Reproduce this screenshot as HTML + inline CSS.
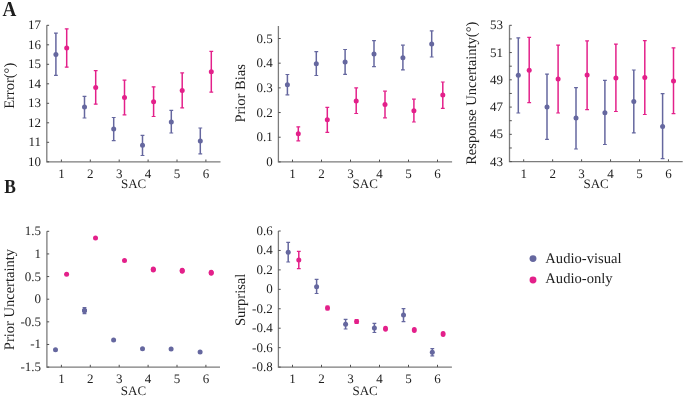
<!DOCTYPE html>
<html><head><meta charset="utf-8"><style>
html,body{margin:0;padding:0;background:#fff;}
body{width:685px;height:397px;overflow:hidden;}
svg{display:block;will-change:transform;}
text{text-rendering:geometricPrecision;}
text{font-family:"Liberation Serif",serif;fill:#1e1e1e;}
.t{font-size:13px;}
.s{font-size:13.0px;}
.l{font-size:14.5px;}
.g{font-size:14.6px;}
.p{font-size:20px;font-weight:bold;}
</style></head><body>
<svg width="685" height="397" viewBox="0 0 685 397" shape-rendering="geometricPrecision">
<path d="M46.8 25.3V161.8H220.5" fill="none" stroke="#7c7c7c" stroke-width="1.3"/>
<path d="M46.8 161.8h2.3" stroke="#505050" stroke-width="1.0"/>
<text x="41" y="165.8" text-anchor="end" class="t">10</text>
<path d="M46.8 142.3h2.3" stroke="#505050" stroke-width="1.0"/>
<text x="41" y="146.3" text-anchor="end" class="t">11</text>
<path d="M46.8 122.8h2.3" stroke="#505050" stroke-width="1.0"/>
<text x="41" y="126.8" text-anchor="end" class="t">12</text>
<path d="M46.8 103.3h2.3" stroke="#505050" stroke-width="1.0"/>
<text x="41" y="107.3" text-anchor="end" class="t">13</text>
<path d="M46.8 83.8h2.3" stroke="#505050" stroke-width="1.0"/>
<text x="41" y="87.8" text-anchor="end" class="t">14</text>
<path d="M46.8 64.3h2.3" stroke="#505050" stroke-width="1.0"/>
<text x="41" y="68.3" text-anchor="end" class="t">15</text>
<path d="M46.8 44.8h2.3" stroke="#505050" stroke-width="1.0"/>
<text x="41" y="48.8" text-anchor="end" class="t">16</text>
<path d="M46.8 25.3h2.3" stroke="#505050" stroke-width="1.0"/>
<text x="41" y="29.3" text-anchor="end" class="t">17</text>
<path d="M61.4 161.8v-2.3" stroke="#505050" stroke-width="1.0"/>
<text x="61.4" y="177.8" text-anchor="middle" class="t">1</text>
<path d="M90.3 161.8v-2.3" stroke="#505050" stroke-width="1.0"/>
<text x="90.3" y="177.8" text-anchor="middle" class="t">2</text>
<path d="M119.2 161.8v-2.3" stroke="#505050" stroke-width="1.0"/>
<text x="119.2" y="177.8" text-anchor="middle" class="t">3</text>
<path d="M148.1 161.8v-2.3" stroke="#505050" stroke-width="1.0"/>
<text x="148.1" y="177.8" text-anchor="middle" class="t">4</text>
<path d="M177 161.8v-2.3" stroke="#505050" stroke-width="1.0"/>
<text x="177" y="177.8" text-anchor="middle" class="t">5</text>
<path d="M205.9 161.8v-2.3" stroke="#505050" stroke-width="1.0"/>
<text x="205.9" y="177.8" text-anchor="middle" class="t">6</text>
<text x="133.65" y="188" text-anchor="middle" class="s">SAC</text>
<text transform="translate(14.2 85.8) rotate(-90)" text-anchor="middle" class="l">Error(°)</text>
<path d="M278.4 25.9V161.9H452.1" fill="none" stroke="#7c7c7c" stroke-width="1.3"/>
<path d="M278.4 161.9h2.3" stroke="#505050" stroke-width="1.0"/>
<text x="272.8" y="165.9" text-anchor="end" class="t">0</text>
<path d="M278.4 137.22h2.3" stroke="#505050" stroke-width="1.0"/>
<text x="272.8" y="141.22" text-anchor="end" class="t">0.1</text>
<path d="M278.4 112.54h2.3" stroke="#505050" stroke-width="1.0"/>
<text x="272.8" y="116.54" text-anchor="end" class="t">0.2</text>
<path d="M278.4 87.86h2.3" stroke="#505050" stroke-width="1.0"/>
<text x="272.8" y="91.86" text-anchor="end" class="t">0.3</text>
<path d="M278.4 63.18h2.3" stroke="#505050" stroke-width="1.0"/>
<text x="272.8" y="67.18" text-anchor="end" class="t">0.4</text>
<path d="M278.4 38.5h2.3" stroke="#505050" stroke-width="1.0"/>
<text x="272.8" y="42.5" text-anchor="end" class="t">0.5</text>
<path d="M292.5 161.9v-2.3" stroke="#505050" stroke-width="1.0"/>
<text x="292.5" y="177.8" text-anchor="middle" class="t">1</text>
<path d="M321.5 161.9v-2.3" stroke="#505050" stroke-width="1.0"/>
<text x="321.5" y="177.8" text-anchor="middle" class="t">2</text>
<path d="M350.5 161.9v-2.3" stroke="#505050" stroke-width="1.0"/>
<text x="350.5" y="177.8" text-anchor="middle" class="t">3</text>
<path d="M379.5 161.9v-2.3" stroke="#505050" stroke-width="1.0"/>
<text x="379.5" y="177.8" text-anchor="middle" class="t">4</text>
<path d="M408.5 161.9v-2.3" stroke="#505050" stroke-width="1.0"/>
<text x="408.5" y="177.8" text-anchor="middle" class="t">5</text>
<path d="M437.5 161.9v-2.3" stroke="#505050" stroke-width="1.0"/>
<text x="437.5" y="177.8" text-anchor="middle" class="t">6</text>
<text x="365.25" y="188" text-anchor="middle" class="s">SAC</text>
<text transform="translate(244.8 93.4) rotate(-90)" text-anchor="middle" class="l">Prior Bias</text>
<path d="M509.5 25.3V161.6H682.7" fill="none" stroke="#7c7c7c" stroke-width="1.3"/>
<path d="M509.5 161.6h2.3" stroke="#505050" stroke-width="1.0"/>
<text x="503" y="165.6" text-anchor="end" class="t">43</text>
<path d="M509.5 147.97h2.3" stroke="#505050" stroke-width="1.0"/>
<path d="M509.5 134.34h2.3" stroke="#505050" stroke-width="1.0"/>
<text x="503" y="138.34" text-anchor="end" class="t">45</text>
<path d="M509.5 120.71h2.3" stroke="#505050" stroke-width="1.0"/>
<path d="M509.5 107.08h2.3" stroke="#505050" stroke-width="1.0"/>
<text x="503" y="111.08" text-anchor="end" class="t">47</text>
<path d="M509.5 93.45h2.3" stroke="#505050" stroke-width="1.0"/>
<path d="M509.5 79.82h2.3" stroke="#505050" stroke-width="1.0"/>
<text x="503" y="83.82" text-anchor="end" class="t">49</text>
<path d="M509.5 66.19h2.3" stroke="#505050" stroke-width="1.0"/>
<path d="M509.5 52.56h2.3" stroke="#505050" stroke-width="1.0"/>
<text x="503" y="56.56" text-anchor="end" class="t">51</text>
<path d="M509.5 38.93h2.3" stroke="#505050" stroke-width="1.0"/>
<path d="M509.5 25.3h2.3" stroke="#505050" stroke-width="1.0"/>
<text x="503" y="29.3" text-anchor="end" class="t">53</text>
<path d="M523.7 161.6v-2.3" stroke="#505050" stroke-width="1.0"/>
<text x="523.7" y="177.8" text-anchor="middle" class="t">1</text>
<path d="M552.65 161.6v-2.3" stroke="#505050" stroke-width="1.0"/>
<text x="552.65" y="177.8" text-anchor="middle" class="t">2</text>
<path d="M581.6 161.6v-2.3" stroke="#505050" stroke-width="1.0"/>
<text x="581.6" y="177.8" text-anchor="middle" class="t">3</text>
<path d="M610.55 161.6v-2.3" stroke="#505050" stroke-width="1.0"/>
<text x="610.55" y="177.8" text-anchor="middle" class="t">4</text>
<path d="M639.5 161.6v-2.3" stroke="#505050" stroke-width="1.0"/>
<text x="639.5" y="177.8" text-anchor="middle" class="t">5</text>
<path d="M668.45 161.6v-2.3" stroke="#505050" stroke-width="1.0"/>
<text x="668.45" y="177.8" text-anchor="middle" class="t">6</text>
<text x="596.1" y="188" text-anchor="middle" class="s">SAC</text>
<text transform="translate(475.8 93.3) rotate(-90)" text-anchor="middle" class="l">Response Uncertainty(°)</text>
<path d="M46.9 231.3V367.1H220" fill="none" stroke="#7c7c7c" stroke-width="1.3"/>
<path d="M46.9 367.1h2.3" stroke="#505050" stroke-width="1.0"/>
<text x="41.1" y="371.1" text-anchor="end" class="t">-1.5</text>
<path d="M46.9 344.47h2.3" stroke="#505050" stroke-width="1.0"/>
<text x="41.1" y="348.47" text-anchor="end" class="t">-1</text>
<path d="M46.9 321.83h2.3" stroke="#505050" stroke-width="1.0"/>
<text x="41.1" y="325.83" text-anchor="end" class="t">-0.5</text>
<path d="M46.9 299.2h2.3" stroke="#505050" stroke-width="1.0"/>
<text x="41.1" y="303.2" text-anchor="end" class="t">0</text>
<path d="M46.9 276.57h2.3" stroke="#505050" stroke-width="1.0"/>
<text x="41.1" y="280.57" text-anchor="end" class="t">0.5</text>
<path d="M46.9 253.93h2.3" stroke="#505050" stroke-width="1.0"/>
<text x="41.1" y="257.93" text-anchor="end" class="t">1</text>
<path d="M46.9 231.3h2.3" stroke="#505050" stroke-width="1.0"/>
<text x="41.1" y="235.3" text-anchor="end" class="t">1.5</text>
<path d="M61.4 367.1v-2.3" stroke="#505050" stroke-width="1.0"/>
<text x="61.4" y="383.1" text-anchor="middle" class="t">1</text>
<path d="M90.3 367.1v-2.3" stroke="#505050" stroke-width="1.0"/>
<text x="90.3" y="383.1" text-anchor="middle" class="t">2</text>
<path d="M119.2 367.1v-2.3" stroke="#505050" stroke-width="1.0"/>
<text x="119.2" y="383.1" text-anchor="middle" class="t">3</text>
<path d="M148.1 367.1v-2.3" stroke="#505050" stroke-width="1.0"/>
<text x="148.1" y="383.1" text-anchor="middle" class="t">4</text>
<path d="M177 367.1v-2.3" stroke="#505050" stroke-width="1.0"/>
<text x="177" y="383.1" text-anchor="middle" class="t">5</text>
<path d="M205.9 367.1v-2.3" stroke="#505050" stroke-width="1.0"/>
<text x="205.9" y="383.1" text-anchor="middle" class="t">6</text>
<text x="133.45" y="395" text-anchor="middle" class="s">SAC</text>
<text transform="translate(13.6 299.6) rotate(-90)" text-anchor="middle" class="l">Prior Uncertainty</text>
<path d="M278.4 231V367.1H451.9" fill="none" stroke="#7c7c7c" stroke-width="1.3"/>
<path d="M278.4 367.1h2.3" stroke="#505050" stroke-width="1.0"/>
<text x="272.7" y="371.1" text-anchor="end" class="t">-0.8</text>
<path d="M278.4 347.66h2.3" stroke="#505050" stroke-width="1.0"/>
<text x="272.7" y="351.66" text-anchor="end" class="t">-0.6</text>
<path d="M278.4 328.21h2.3" stroke="#505050" stroke-width="1.0"/>
<text x="272.7" y="332.21" text-anchor="end" class="t">-0.4</text>
<path d="M278.4 308.77h2.3" stroke="#505050" stroke-width="1.0"/>
<text x="272.7" y="312.77" text-anchor="end" class="t">-0.2</text>
<path d="M278.4 289.33h2.3" stroke="#505050" stroke-width="1.0"/>
<text x="272.7" y="293.33" text-anchor="end" class="t">0</text>
<path d="M278.4 269.89h2.3" stroke="#505050" stroke-width="1.0"/>
<text x="272.7" y="273.89" text-anchor="end" class="t">0.2</text>
<path d="M278.4 250.44h2.3" stroke="#505050" stroke-width="1.0"/>
<text x="272.7" y="254.44" text-anchor="end" class="t">0.4</text>
<path d="M278.4 231h2.3" stroke="#505050" stroke-width="1.0"/>
<text x="272.7" y="235" text-anchor="end" class="t">0.6</text>
<path d="M292.5 367.1v-2.3" stroke="#505050" stroke-width="1.0"/>
<text x="292.5" y="383.1" text-anchor="middle" class="t">1</text>
<path d="M321.5 367.1v-2.3" stroke="#505050" stroke-width="1.0"/>
<text x="321.5" y="383.1" text-anchor="middle" class="t">2</text>
<path d="M350.5 367.1v-2.3" stroke="#505050" stroke-width="1.0"/>
<text x="350.5" y="383.1" text-anchor="middle" class="t">3</text>
<path d="M379.5 367.1v-2.3" stroke="#505050" stroke-width="1.0"/>
<text x="379.5" y="383.1" text-anchor="middle" class="t">4</text>
<path d="M408.5 367.1v-2.3" stroke="#505050" stroke-width="1.0"/>
<text x="408.5" y="383.1" text-anchor="middle" class="t">5</text>
<path d="M437.5 367.1v-2.3" stroke="#505050" stroke-width="1.0"/>
<text x="437.5" y="383.1" text-anchor="middle" class="t">6</text>
<text x="365.15" y="395" text-anchor="middle" class="s">SAC</text>
<text transform="translate(244.8 299.9) rotate(-90)" text-anchor="middle" class="l">Surprisal</text>
<path d="M55.9 33.1V75.3" stroke="#65679f" stroke-width="1.5"/>
<path d="M54 33.1h3.8M54 75.3h3.8" stroke="#65679f" stroke-width="1.2"/>
<circle cx="55.9" cy="54.5" r="2.5" fill="#65679f"/>
<path d="M66.7 28.8V67.2" stroke="#e3208a" stroke-width="1.5"/>
<path d="M64.8 28.8h3.8M64.8 67.2h3.8" stroke="#e3208a" stroke-width="1.2"/>
<circle cx="66.7" cy="48" r="2.5" fill="#e3208a"/>
<path d="M84.5 96.4V118" stroke="#65679f" stroke-width="1.5"/>
<path d="M82.6 96.4h3.8M82.6 118h3.8" stroke="#65679f" stroke-width="1.2"/>
<circle cx="84.5" cy="107.1" r="2.5" fill="#65679f"/>
<path d="M95.7 70.7V104.2" stroke="#e3208a" stroke-width="1.5"/>
<path d="M93.8 70.7h3.8M93.8 104.2h3.8" stroke="#e3208a" stroke-width="1.2"/>
<circle cx="95.7" cy="87.5" r="2.5" fill="#e3208a"/>
<path d="M113.7 117.5V140.6" stroke="#65679f" stroke-width="1.5"/>
<path d="M111.8 117.5h3.8M111.8 140.6h3.8" stroke="#65679f" stroke-width="1.2"/>
<circle cx="113.7" cy="129.1" r="2.5" fill="#65679f"/>
<path d="M124.5 80.1V114.9" stroke="#e3208a" stroke-width="1.5"/>
<path d="M122.6 80.1h3.8M122.6 114.9h3.8" stroke="#e3208a" stroke-width="1.2"/>
<circle cx="124.5" cy="97.5" r="2.5" fill="#e3208a"/>
<path d="M142.5 135.3V155.5" stroke="#65679f" stroke-width="1.5"/>
<path d="M140.6 135.3h3.8M140.6 155.5h3.8" stroke="#65679f" stroke-width="1.2"/>
<circle cx="142.5" cy="145.3" r="2.5" fill="#65679f"/>
<path d="M153.6 86.8V116.5" stroke="#e3208a" stroke-width="1.5"/>
<path d="M151.7 86.8h3.8M151.7 116.5h3.8" stroke="#e3208a" stroke-width="1.2"/>
<circle cx="153.6" cy="101.7" r="2.5" fill="#e3208a"/>
<path d="M171.3 110.4V133" stroke="#65679f" stroke-width="1.5"/>
<path d="M169.4 110.4h3.8M169.4 133h3.8" stroke="#65679f" stroke-width="1.2"/>
<circle cx="171.3" cy="121.9" r="2.5" fill="#65679f"/>
<path d="M182.2 72.9V107.9" stroke="#e3208a" stroke-width="1.5"/>
<path d="M180.3 72.9h3.8M180.3 107.9h3.8" stroke="#e3208a" stroke-width="1.2"/>
<circle cx="182.2" cy="90.4" r="2.5" fill="#e3208a"/>
<path d="M200.3 128V153.9" stroke="#65679f" stroke-width="1.5"/>
<path d="M198.4 128h3.8M198.4 153.9h3.8" stroke="#65679f" stroke-width="1.2"/>
<circle cx="200.3" cy="141" r="2.5" fill="#65679f"/>
<path d="M211.3 51.3V92.1" stroke="#e3208a" stroke-width="1.5"/>
<path d="M209.4 51.3h3.8M209.4 92.1h3.8" stroke="#e3208a" stroke-width="1.2"/>
<circle cx="211.3" cy="71.7" r="2.5" fill="#e3208a"/>
<path d="M287.4 74.5V94.8" stroke="#65679f" stroke-width="1.5"/>
<path d="M285.5 74.5h3.8M285.5 94.8h3.8" stroke="#65679f" stroke-width="1.2"/>
<circle cx="287.4" cy="84.7" r="2.5" fill="#65679f"/>
<path d="M298.3 126.8V140.9" stroke="#e3208a" stroke-width="1.5"/>
<path d="M296.4 126.8h3.8M296.4 140.9h3.8" stroke="#e3208a" stroke-width="1.2"/>
<circle cx="298.3" cy="133.8" r="2.5" fill="#e3208a"/>
<path d="M316.3 51.7V75.5" stroke="#65679f" stroke-width="1.5"/>
<path d="M314.4 51.7h3.8M314.4 75.5h3.8" stroke="#65679f" stroke-width="1.2"/>
<circle cx="316.3" cy="63.8" r="2.5" fill="#65679f"/>
<path d="M327.3 107.4V132.4" stroke="#e3208a" stroke-width="1.5"/>
<path d="M325.4 107.4h3.8M325.4 132.4h3.8" stroke="#e3208a" stroke-width="1.2"/>
<circle cx="327.3" cy="119.7" r="2.5" fill="#e3208a"/>
<path d="M345.1 49.5V74.3" stroke="#65679f" stroke-width="1.5"/>
<path d="M343.2 49.5h3.8M343.2 74.3h3.8" stroke="#65679f" stroke-width="1.2"/>
<circle cx="345.1" cy="61.9" r="2.5" fill="#65679f"/>
<path d="M356.2 87.9V113.5" stroke="#e3208a" stroke-width="1.5"/>
<path d="M354.3 87.9h3.8M354.3 113.5h3.8" stroke="#e3208a" stroke-width="1.2"/>
<circle cx="356.2" cy="100.9" r="2.5" fill="#e3208a"/>
<path d="M374 40.7V66.7" stroke="#65679f" stroke-width="1.5"/>
<path d="M372.1 40.7h3.8M372.1 66.7h3.8" stroke="#65679f" stroke-width="1.2"/>
<circle cx="374" cy="53.9" r="2.5" fill="#65679f"/>
<path d="M385 91.2V117.8" stroke="#e3208a" stroke-width="1.5"/>
<path d="M383.1 91.2h3.8M383.1 117.8h3.8" stroke="#e3208a" stroke-width="1.2"/>
<circle cx="385" cy="104.5" r="2.5" fill="#e3208a"/>
<path d="M402.9 45.2V69.9" stroke="#65679f" stroke-width="1.5"/>
<path d="M401 45.2h3.8M401 69.9h3.8" stroke="#65679f" stroke-width="1.2"/>
<circle cx="402.9" cy="57.8" r="2.5" fill="#65679f"/>
<path d="M413.9 99.2V122" stroke="#e3208a" stroke-width="1.5"/>
<path d="M412 99.2h3.8M412 122h3.8" stroke="#e3208a" stroke-width="1.2"/>
<circle cx="413.9" cy="110.7" r="2.5" fill="#e3208a"/>
<path d="M431.7 30.9V57" stroke="#65679f" stroke-width="1.5"/>
<path d="M429.8 30.9h3.8M429.8 57h3.8" stroke="#65679f" stroke-width="1.2"/>
<circle cx="431.7" cy="43.9" r="2.5" fill="#65679f"/>
<path d="M442.8 82V108.3" stroke="#e3208a" stroke-width="1.5"/>
<path d="M440.9 82h3.8M440.9 108.3h3.8" stroke="#e3208a" stroke-width="1.2"/>
<circle cx="442.8" cy="95.1" r="2.5" fill="#e3208a"/>
<path d="M518.3 37.9V113" stroke="#65679f" stroke-width="1.5"/>
<path d="M516.4 37.9h3.8M516.4 113h3.8" stroke="#65679f" stroke-width="1.2"/>
<circle cx="518.3" cy="75.3" r="2.5" fill="#65679f"/>
<path d="M529.2 37.3V102.7" stroke="#e3208a" stroke-width="1.5"/>
<path d="M527.3 37.3h3.8M527.3 102.7h3.8" stroke="#e3208a" stroke-width="1.2"/>
<circle cx="529.2" cy="70.2" r="2.5" fill="#e3208a"/>
<path d="M547 74.1V139.3" stroke="#65679f" stroke-width="1.5"/>
<path d="M545.1 74.1h3.8M545.1 139.3h3.8" stroke="#65679f" stroke-width="1.2"/>
<circle cx="547" cy="106.9" r="2.5" fill="#65679f"/>
<path d="M558.1 45.1V113" stroke="#e3208a" stroke-width="1.5"/>
<path d="M556.2 45.1h3.8M556.2 113h3.8" stroke="#e3208a" stroke-width="1.2"/>
<circle cx="558.1" cy="79.1" r="2.5" fill="#e3208a"/>
<path d="M576 87.7V149" stroke="#65679f" stroke-width="1.5"/>
<path d="M574.1 87.7h3.8M574.1 149h3.8" stroke="#65679f" stroke-width="1.2"/>
<circle cx="576" cy="118.1" r="2.5" fill="#65679f"/>
<path d="M587.1 40.9V109.6" stroke="#e3208a" stroke-width="1.5"/>
<path d="M585.2 40.9h3.8M585.2 109.6h3.8" stroke="#e3208a" stroke-width="1.2"/>
<circle cx="587.1" cy="75" r="2.5" fill="#e3208a"/>
<path d="M604.9 80.3V144.5" stroke="#65679f" stroke-width="1.5"/>
<path d="M603 80.3h3.8M603 144.5h3.8" stroke="#65679f" stroke-width="1.2"/>
<circle cx="604.9" cy="112.7" r="2.5" fill="#65679f"/>
<path d="M615.9 44.1V111.5" stroke="#e3208a" stroke-width="1.5"/>
<path d="M614 44.1h3.8M614 111.5h3.8" stroke="#e3208a" stroke-width="1.2"/>
<circle cx="615.9" cy="77.9" r="2.5" fill="#e3208a"/>
<path d="M633.8 70V132.9" stroke="#65679f" stroke-width="1.5"/>
<path d="M631.9 70h3.8M631.9 132.9h3.8" stroke="#65679f" stroke-width="1.2"/>
<circle cx="633.8" cy="101.6" r="2.5" fill="#65679f"/>
<path d="M644.8 40.6V114.5" stroke="#e3208a" stroke-width="1.5"/>
<path d="M642.9 40.6h3.8M642.9 114.5h3.8" stroke="#e3208a" stroke-width="1.2"/>
<circle cx="644.8" cy="77.6" r="2.5" fill="#e3208a"/>
<path d="M662.6 93.6V158.7" stroke="#65679f" stroke-width="1.5"/>
<path d="M660.7 93.6h3.8M660.7 158.7h3.8" stroke="#65679f" stroke-width="1.2"/>
<circle cx="662.6" cy="126.4" r="2.5" fill="#65679f"/>
<path d="M673.5 47.8V113.7" stroke="#e3208a" stroke-width="1.5"/>
<path d="M671.6 47.8h3.8M671.6 113.7h3.8" stroke="#e3208a" stroke-width="1.2"/>
<circle cx="673.5" cy="80.9" r="2.5" fill="#e3208a"/>
<path d="M288.2 242.4V262" stroke="#65679f" stroke-width="1.5"/>
<path d="M286.3 242.4h3.8M286.3 262h3.8" stroke="#65679f" stroke-width="1.2"/>
<circle cx="288.2" cy="252.2" r="2.5" fill="#65679f"/>
<path d="M298.8 251.4V268.7" stroke="#e3208a" stroke-width="1.5"/>
<path d="M296.9 251.4h3.8M296.9 268.7h3.8" stroke="#e3208a" stroke-width="1.2"/>
<circle cx="298.8" cy="260" r="2.5" fill="#e3208a"/>
<path d="M316.6 279.3V293.5" stroke="#65679f" stroke-width="1.5"/>
<path d="M314.7 279.3h3.8M314.7 293.5h3.8" stroke="#65679f" stroke-width="1.2"/>
<circle cx="316.6" cy="286.7" r="2.5" fill="#65679f"/>
<path d="M327.5 306.2V310" stroke="#e3208a" stroke-width="1.5"/>
<path d="M325.6 306.2h3.8M325.6 310h3.8" stroke="#e3208a" stroke-width="1.2"/>
<circle cx="327.5" cy="308.1" r="2.5" fill="#e3208a"/>
<path d="M345.6 319.3V329" stroke="#65679f" stroke-width="1.5"/>
<path d="M343.7 319.3h3.8M343.7 329h3.8" stroke="#65679f" stroke-width="1.2"/>
<circle cx="345.6" cy="324.2" r="2.5" fill="#65679f"/>
<path d="M356.6 319.6V323.4" stroke="#e3208a" stroke-width="1.5"/>
<path d="M354.7 319.6h3.8M354.7 323.4h3.8" stroke="#e3208a" stroke-width="1.2"/>
<circle cx="356.6" cy="321.5" r="2.5" fill="#e3208a"/>
<path d="M374.4 323.4V332.5" stroke="#65679f" stroke-width="1.5"/>
<path d="M372.5 323.4h3.8M372.5 332.5h3.8" stroke="#65679f" stroke-width="1.2"/>
<circle cx="374.4" cy="328" r="2.5" fill="#65679f"/>
<ellipse cx="385.5" cy="328.7" rx="2.5" ry="3.0" fill="#e3208a"/>
<path d="M403.5 308.6V321.6" stroke="#65679f" stroke-width="1.5"/>
<path d="M401.6 308.6h3.8M401.6 321.6h3.8" stroke="#65679f" stroke-width="1.2"/>
<circle cx="403.5" cy="315.1" r="2.5" fill="#65679f"/>
<ellipse cx="414.3" cy="329.9" rx="2.5" ry="3.0" fill="#e3208a"/>
<path d="M432.3 348.7V355.9" stroke="#65679f" stroke-width="1.5"/>
<path d="M430.4 348.7h3.8M430.4 355.9h3.8" stroke="#65679f" stroke-width="1.2"/>
<circle cx="432.3" cy="352.3" r="2.5" fill="#65679f"/>
<ellipse cx="443.1" cy="333.9" rx="2.5" ry="3.0" fill="#e3208a"/>
<circle cx="55.5" cy="349.7" r="2.5" fill="#65679f"/>
<circle cx="66.6" cy="274.3" r="2.5" fill="#e3208a"/>
<circle cx="84.5" cy="310.5" r="2.5" fill="#65679f"/>
<circle cx="95.5" cy="238" r="2.5" fill="#e3208a"/>
<circle cx="113.6" cy="339.9" r="2.5" fill="#65679f"/>
<circle cx="124.5" cy="260.6" r="2.5" fill="#e3208a"/>
<circle cx="142.5" cy="348.7" r="2.5" fill="#65679f"/>
<circle cx="153.3" cy="269.6" r="2.5" fill="#e3208a"/>
<circle cx="171.1" cy="349.1" r="2.5" fill="#65679f"/>
<circle cx="182.2" cy="270.7" r="2.5" fill="#e3208a"/>
<circle cx="200.1" cy="352.1" r="2.5" fill="#65679f"/>
<circle cx="211.2" cy="272.7" r="2.5" fill="#e3208a"/>
<ellipse cx="153.3" cy="269.6" rx="2.5" ry="3.0" fill="#e3208a"/>
<ellipse cx="182.2" cy="270.7" rx="2.5" ry="3.0" fill="#e3208a"/>
<ellipse cx="211.2" cy="272.7" rx="2.5" ry="3.0" fill="#e3208a"/>
<path d="M84.5 307.6V313.6" stroke="#65679f" stroke-width="1.5"/>
<path d="M82.6 307.6h3.8M82.6 313.6h3.8" stroke="#65679f" stroke-width="1.2"/>
<circle cx="84.5" cy="310.5" r="2.5" fill="#65679f"/>
<text transform="translate(2.6 15.6) scale(0.96 1.07)" class="p">A</text>
<text transform="translate(4.3 192.6) scale(0.87 1.0)" class="p">B</text>
<circle cx="533" cy="258.6" r="3.45" fill="#65679f"/>
<circle cx="533" cy="280" r="3.45" fill="#e3208a"/>
<text x="545.3" y="262.5" class="g">Audio-visual</text>
<text x="545.3" y="283.2" class="g">Audio-only</text>
</svg>
</body></html>
